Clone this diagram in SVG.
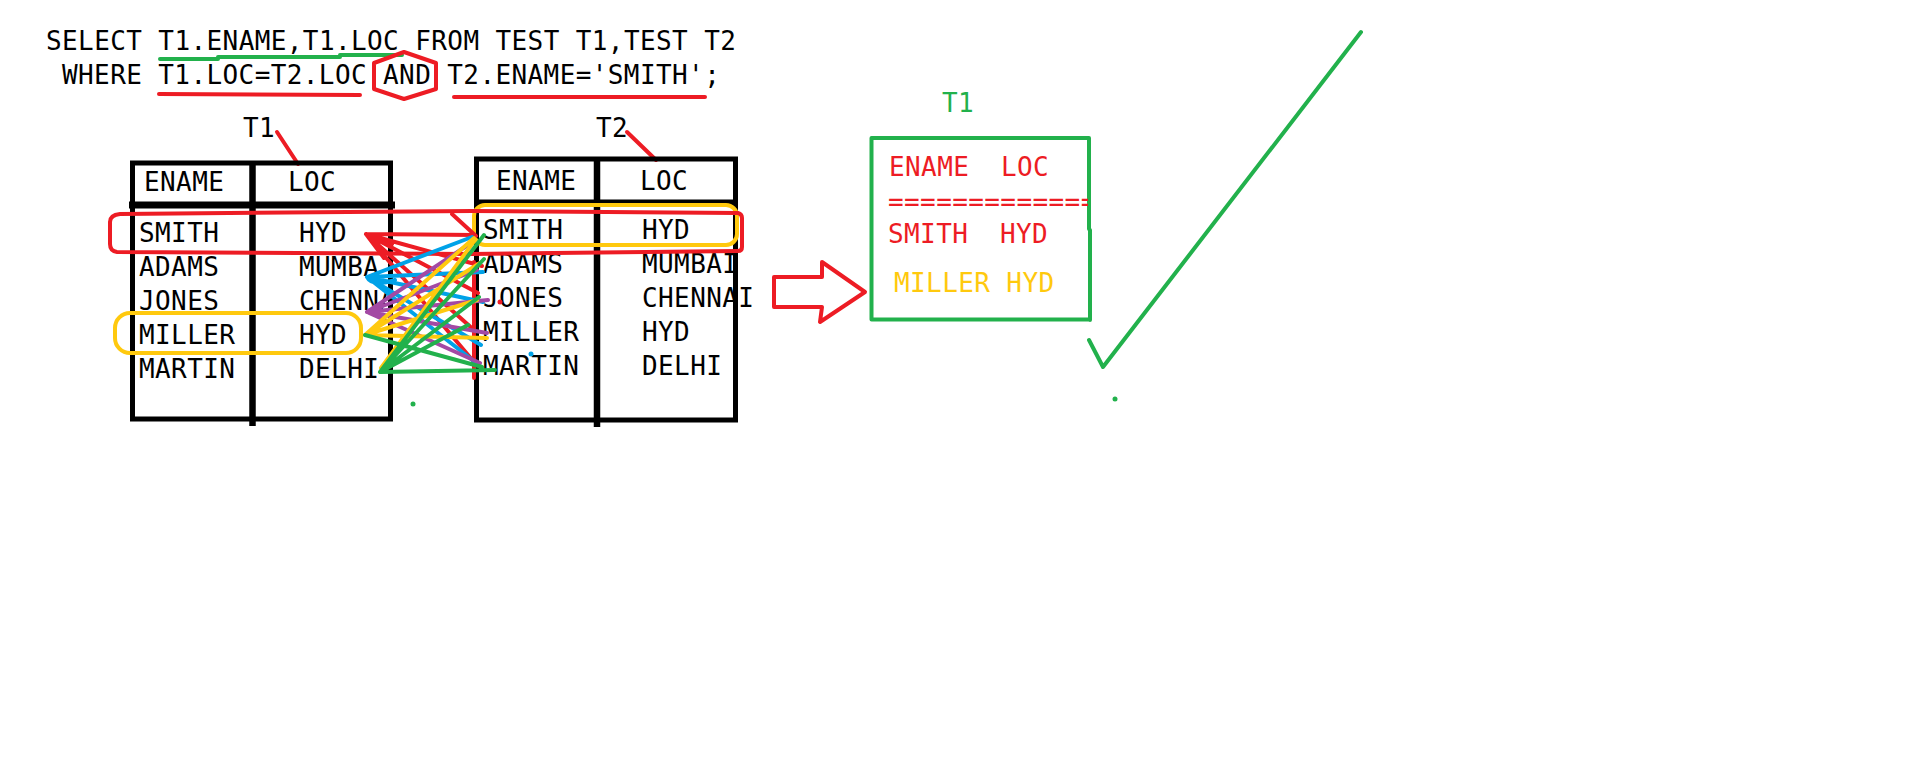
<svg xmlns="http://www.w3.org/2000/svg" width="1911" height="764" viewBox="0 0 1911 764">
<style>
.t{font-family:"DejaVu Sans Mono","Liberation Mono",monospace;font-size:26px;letter-spacing:0.4px;fill:#000}
.red{fill:#ED1C24}.yel{fill:#FFC90E}.grn{fill:#22B14C}
.box{fill:none;stroke:#000;stroke-width:5}
.hdr{stroke:#000;stroke-width:7}
.div{stroke:#000;stroke-width:6.5}
.ln{fill:none;stroke-width:4;stroke-linecap:round;stroke-linejoin:round}
.r{stroke:#ED1C24}.b{stroke:#00A2E8}.p{stroke:#A349A4}.y{stroke:#FFC90E}.g{stroke:#22B14C}
</style>
<defs>
<clipPath id="c1"><rect x="130" y="160" width="259" height="270"/></clipPath>
<clipPath id="c2"><rect x="870" y="137" width="218" height="185"/></clipPath>
</defs>
<rect width="1911" height="764" fill="#fff"/>

<g id="sql">
<text class="t" x="46" y="50">SELECT T1.ENAME,T1.LOC FROM TEST T1,TEST T2</text>
<text class="t" x="62" y="84">WHERE T1.LOC=T2.LOC AND T2.ENAME='SMITH';</text>
<path class="ln g" d="M160,59 L218,59 M218,57 L340,57 M340,55 L402,55"/>
<path class="ln r" d="M159,94 L360,95"/>
<path class="ln r" d="M454,97 L705,97"/>
<polygon class="ln r" points="404,52 436,63 436,89 404,99 374,89 374,63"/>
</g>

<g id="table-t1">
<text class="t" x="243" y="137">T1</text>
<path class="ln r" d="M277,132 L298,164"/>
<rect class="box" x="132.5" y="163" width="258" height="256"/>
<line class="hdr" x1="129" y1="205" x2="395" y2="205"/>
<line class="div" x1="252.5" y1="163" x2="252.5" y2="426"/>
<text class="t" x="144" y="191">ENAME</text>
<text class="t" x="288" y="191">LOC</text>
<text class="t" x="139" y="242">SMITH</text>
<text class="t" x="139" y="276">ADAMS</text>
<text class="t" x="139" y="310">JONES</text>
<text class="t" x="139" y="344">MILLER</text>
<text class="t" x="139" y="378">MARTIN</text>
<g clip-path="url(#c1)">
<text class="t" x="299" y="242">HYD</text>
<text class="t" x="299" y="276">MUMBA</text>
<text class="t" x="299" y="310">CHENNA</text>
<text class="t" x="299" y="344">HYD</text>
<text class="t" x="299" y="378">DELHI</text>
</g>
</g>

<g id="table-t2">
<text class="t" x="596" y="137">T2</text>
<path class="ln r" d="M627,132 L656,160"/>
<rect class="box" x="476.5" y="159" width="259" height="261"/>
<line class="hdr" x1="474" y1="203" x2="738" y2="203"/>
<line class="div" x1="597" y1="159" x2="597" y2="427"/>
<text class="t" x="496" y="190">ENAME</text>
<text class="t" x="640" y="190">LOC</text>
<text class="t" x="483" y="239">SMITH</text>
<text class="t" x="483" y="273">ADAMS</text>
<text class="t" x="483" y="307">JONES</text>
<text class="t" x="483" y="341">MILLER</text>
<text class="t" x="483" y="375">MARTIN</text>
<text class="t" x="642" y="239">HYD</text>
<text class="t" x="642" y="273">MUMBAI</text>
<text class="t" x="642" y="307">CHENNAI</text>
<text class="t" x="642" y="341">HYD</text>
<text class="t" x="642" y="375">DELHI</text>
</g>

<g id="highlights">
<rect class="ln y" x="474" y="205" width="263" height="40" rx="11"/>
<path class="ln r" d="M120,214 L472,211 L738,213 Q742,214 742,218 L742,247 Q742,251 738,251 L472,254 L117,252 Q110,251 110,244 L110,222 Q110,215 120,214 Z"/>
<rect class="ln y" x="115" y="313" width="246" height="40" rx="15"/>
</g>

<g id="connectors">
<path class="ln r" d="M366,234 L475,235 M366,234 L392,244 M366,234 L384,258 M366,234 L482,266 M366,234 L478,293 M366,234 L474,330 M366,234 L474,362 M452,214 L476,236 M474,262 L474,378"/>
<circle cx="500" cy="302" r="2.5" class="red"/>
<path class="ln b" d="M367,277 L472,237 M367,277 L483,272 M367,277 L483,302 M367,277 L481,345 M367,277 L480,366 M367,277 Q372,287 395,280"/>
<circle cx="531" cy="354" r="2.5" fill="#00A2E8"/>
<path class="ln p" d="M367,312 L468,245 M367,312 L477,270 M367,312 L488,300 M367,312 L487,333 M367,312 L480,363"/>
<path class="ln y" d="M365,335 L474,238 M365,335 L480,263 M365,335 L477,300 M365,335 L487,338 M381,368 L475,240"/>
<path class="ln g" d="M380,372 L484,235 M380,372 L484,259 M380,372 L479,297 M380,372 L468,325 M380,372 L495,370 M365,335 L482,367"/>
<circle cx="413" cy="404" r="2.5" class="grn"/>
</g>

<g id="arrow">
<polygon class="ln r" points="774,277 822,277 822,262 865,292 820,322 822,307 774,307"/>
</g>

<g id="result-t1">
<text class="t grn" x="942" y="112">T1</text>
<path class="ln g" d="M1089,138 L871.5,138 L871.5,319.5 L1090,319.5 M1089,138 L1089,229 M1090,230 L1090,320"/>
<text class="t red" x="889" y="176">ENAME</text>
<text class="t red" x="1001" y="176">LOC</text>
<g clip-path="url(#c2)"><text class="t red" x="888" y="211">==============</text></g>
<text class="t red" x="888" y="243">SMITH</text>
<text class="t red" x="1000" y="243">HYD</text>
<text class="t yel" x="894" y="292">MILLER HYD</text>
</g>

<g id="check">
<polyline class="ln g" stroke-width="5" points="1089,340 1103,367 1361,32"/>
<circle cx="1115" cy="399" r="2.5" class="grn"/>
</g>
</svg>
